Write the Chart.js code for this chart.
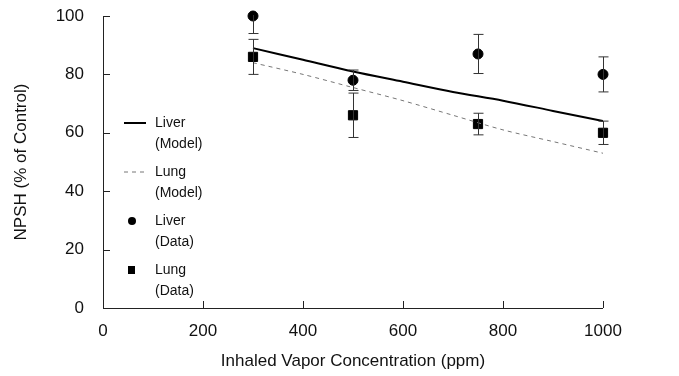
<!DOCTYPE html>
<html>
<head>
<meta charset="utf-8">
<script src="https://cdn.jsdelivr.net/npm/chart.js@4"></script>
<style>
  body { margin: 0; background: #fff; }
  #wrap { width: 679px; height: 376px; }
</style>
</head>
<body>
<div id="wrap"><canvas id="canvas" width="679" height="376"></canvas></div>
<script>
// data
const modelDoses = [300, 400, 500, 600, 700, 800, 900, 1000];
const liverModel = [89, 85, 81, 77.5, 74, 71, 67.5, 64];
const lungModel = [84, 80, 75.5, 71, 66, 61, 57, 53];

const dataDoses = [300, 500, 750, 1000];
const liverData = [100, 78, 87, 80];
const liverErr = [6, 3.5, 6.7, 6];
const lungData = [86, 66, 63, 60];
const lungErr = [6, 7.6, 3.7, 4];

const xTicks = [0, 200, 400, 600, 800, 1000];
const yTicks = [0, 20, 40, 60, 80, 100];

const font = "'Liberation Sans', Arial, sans-serif";

function pts(xs, ys) {
  return xs.map(function (x, i) { return { x: x, y: ys[i] }; });
}

// error bars from the data arrays
const errorBars = {
  id: "errorBars",
  afterDatasetsDraw(chart) {
    const ctx = chart.ctx;
    const xs = chart.scales.x, ys = chart.scales.y;
    const area = chart.chartArea;
    ctx.save();
    ctx.beginPath();
    ctx.rect(area.left, area.top - 1, area.right - area.left + 8, area.bottom - area.top + 1);
    ctx.clip();
    ctx.strokeStyle = "#333";
    ctx.lineWidth = 1;
    [[liverData, liverErr], [lungData, lungErr]].forEach(function (pair) {
      dataDoses.forEach(function (d, i) {
        const px = Math.round(xs.getPixelForValue(d)) + 0.5;
        const top = ys.getPixelForValue(pair[0][i] + pair[1][i]);
        const bot = ys.getPixelForValue(pair[0][i] - pair[1][i]);
        ctx.beginPath();
        ctx.moveTo(px, top); ctx.lineTo(px, bot);
        ctx.moveTo(px - 5, top); ctx.lineTo(px + 5, top);
        ctx.moveTo(px - 5, bot); ctx.lineTo(px + 5, bot);
        ctx.stroke();
      });
    });
    ctx.restore();
  }
};

// inward tick marks and the two-line legend
const decorations = {
  id: "decorations",
  afterDraw(chart) {
    const ctx = chart.ctx;
    const xs = chart.scales.x, ys = chart.scales.y;
    const a = chart.chartArea;
    ctx.save();
    ctx.strokeStyle = "#222";
    ctx.lineWidth = 1;
    ctx.beginPath();
    ctx.moveTo(a.left + 0.5, a.top);
    ctx.lineTo(a.left + 0.5, a.bottom + 0.5);
    ctx.lineTo(a.right, a.bottom + 0.5);
    yTicks.forEach(function (v) {
      const py = Math.round(ys.getPixelForValue(v)) + 0.5;
      ctx.moveTo(a.left, py); ctx.lineTo(a.left + 7, py);
    });
    xTicks.forEach(function (v) {
      const px = Math.round(xs.getPixelForValue(v)) + 0.5;
      ctx.moveTo(px, a.bottom); ctx.lineTo(px, a.bottom - 7);
    });
    ctx.stroke();

    // legend
    const lx = a.left + 21, tx = a.left + 52;
    let y = 123;
    ctx.font = "14px " + font;
    ctx.fillStyle = "#111";
    ctx.textBaseline = "middle";
    chart.data.datasets.forEach(function (ds) {
      const parts = ds.label.split("\n");
      if (ds.showLine) {
        ctx.strokeStyle = ds.borderColor;
        ctx.lineWidth = ds.borderWidth;
        ctx.setLineDash(ds.borderDash || []);
        ctx.beginPath();
        ctx.moveTo(lx, y); ctx.lineTo(lx + 22, y);
        ctx.stroke();
        ctx.setLineDash([]);
      } else {
        ctx.fillStyle = "#000";
        ctx.beginPath();
        if (ds.pointStyle === "rect") {
          ctx.rect(lx + 4, y - 4, 7, 8);
        } else {
          ctx.arc(lx + 8, y, 4, 0, Math.PI * 2);
        }
        ctx.fill();
      }
      ctx.fillStyle = "#111";
      ctx.fillText(parts[0], tx, y);
      ctx.fillText(parts[1], tx, y + 21);
      y += 49;
    });
    ctx.restore();
  }
};

const config = {
  type: "scatter",
  data: {
    datasets: [
      {
        label: "Liver\n(Model)",
        data: pts(modelDoses, liverModel),
        showLine: true,
        borderColor: "#000",
        borderWidth: 2,
        pointRadius: 0,
        tension: 0.3
      },
      {
        label: "Lung\n(Model)",
        data: pts(modelDoses, lungModel),
        showLine: true,
        borderColor: "#777",
        borderWidth: 1,
        borderDash: [4, 4],
        pointRadius: 0,
        tension: 0.3
      },
      {
        label: "Liver\n(Data)",
        data: pts(dataDoses, liverData),
        showLine: false,
        clip: false,
        pointStyle: "circle",
        pointRadius: 5,
        backgroundColor: "#000",
        borderColor: "#000"
      },
      {
        label: "Lung\n(Data)",
        data: pts(dataDoses, lungData),
        showLine: false,
        clip: false,
        pointStyle: "rect",
        pointRadius: 6.5,
        backgroundColor: "#000",
        borderColor: "#000"
      }
    ]
  },
  options: {
    responsive: false,
    animation: false,
    layout: { padding: { left: 0, right: 76, top: 0, bottom: 0 } },
    plugins: { legend: { display: false }, tooltip: { enabled: false } },
    scales: {
      x: {
        type: "linear",
        min: 0,
        max: 1000,
        afterBuildTicks: function (s) { s.ticks = xTicks.map(function (v) { return { value: v }; }); },
        afterFit: function (s) { s.height = 68; },
        grid: { display: false },
        border: { display: false },
        ticks: {
          color: "#111", font: { family: font, size: 17 }, padding: 5, maxRotation: 0,
          callback: function (v) { return String(v); }
        },
        title: { display: true, text: "Inhaled Vapor Concentration (ppm)", color: "#111", font: { family: font, size: 17 }, padding: { top: 8 } }
      },
      y: {
        min: 0,
        max: 100,
        afterBuildTicks: function (s) { s.ticks = yTicks.map(function (v) { return { value: v }; }); },
        afterFit: function (s) { s.width = 103; s.paddingTop = 16; },
        grid: { display: false },
        border: { display: false },
        ticks: { color: "#111", font: { family: font, size: 17 }, padding: 11 },
        title: { display: true, text: "NPSH (% of Control)", color: "#111", font: { family: font, size: 17 }, padding: { top: 11, bottom: 10 } }
      }
    }
  },
  plugins: [errorBars, decorations]
};

const myChart = new Chart(document.getElementById("canvas"), config);
</script>
</body>
</html>
